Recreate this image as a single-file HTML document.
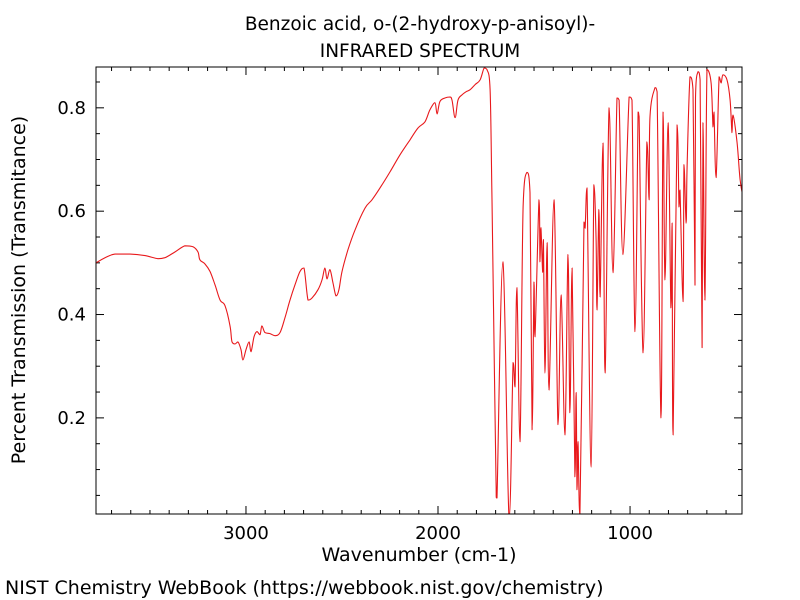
<!DOCTYPE html>
<html><head><meta charset="utf-8"><style>
html,body{margin:0;padding:0;background:#fff;width:800px;height:600px;overflow:hidden}
text{font-family:"DejaVu Sans","Liberation Sans",sans-serif;fill:#000}
</style></head><body>
<svg id="chart" width="800" height="600" xmlns="http://www.w3.org/2000/svg">
<text x="420" y="30" font-size="18.5" text-anchor="middle">Benzoic acid, o-(2-hydroxy-p-anisoyl)-</text>
<text x="420" y="57" font-size="18.5" text-anchor="middle">INFRARED SPECTRUM</text>
<defs><clipPath id="plotclip"><rect x="96" y="67" width="646" height="447"/></clipPath></defs>
<g id="ticks"></g>
<path id="spectrum" fill="none" stroke="#e8191c" stroke-width="1.1" stroke-linejoin="round" clip-path="url(#plotclip)"/>
<rect x="96" y="67" width="646" height="447" fill="none" stroke="#000" stroke-width="1"/>
<text x="419" y="561" font-size="19" text-anchor="middle">Wavenumber (cm-1)</text>
<text transform="translate(25,290) rotate(-90)" font-size="19" text-anchor="middle">Percent Transmission (Transmitance)</text>
<text x="5" y="594" font-size="19">NIST Chemistry WebBook (https://webbook.nist.gov/chemistry)</text>
</svg>
<script>
const wavenumbers=[
3781,3734,3682,3604,3526,3458,3422,3370,3318,3276,
3250,3240,3214,3187,3161,3135,3109,3083,3073,3057,
3042,3026,3016,3000,2984,2974,2958,2943,2927,2917,
2901,2875,2849,2823,2797,2771,2745,2719,2698,2677,
2656,2625,2604,2589,2578,2563,2547,2531,2516,2500,
2469,2432,2380,2344,2302,2250,2198,2146,2104,2068,
2042,2016,2005,1990,1964,1938,1927,1911,1896,1875,
1854,1833,1807,1781,1760,1745,1729,1719,1708,1698,
1693,1662,1630,1609,1599,1589,1573,1557,1537,1521,
1510,1500,1495,1474,1469,1464,1455,1451,1443,1432,
1422,1396,1375,1359,1339,1323,1313,1302,1287,1281,
1276,1271,1261,1240,1234,1224,1203,1188,1177,1172,
1162,1156,1141,1130,1109,1089,1068,1057,1037,1005,
990,974,958,953,932,912,901,896,870,859,
839,828,818,802,787,781,776,755,745,740,
724,719,708,703,688,672,662,659,646,635,
625,620,610,599,578,568,563,552,536,526,
516,495,479,469,464,443,427,412];
const transmittance=[
0.500,0.510,0.517,0.517,0.514,0.508,0.510,0.521,0.533,0.531,
0.521,0.506,0.498,0.483,0.457,0.428,0.417,0.378,0.347,0.343,
0.347,0.332,0.312,0.332,0.347,0.328,0.357,0.367,0.361,0.378,
0.365,0.363,0.359,0.365,0.394,0.428,0.457,0.483,0.490,0.428,
0.432,0.448,0.467,0.490,0.469,0.487,0.461,0.436,0.448,0.483,
0.525,0.564,0.606,0.622,0.645,0.676,0.709,0.738,0.761,0.773,
0.796,0.810,0.788,0.812,0.819,0.821,0.815,0.781,0.815,0.825,
0.831,0.835,0.845,0.854,0.877,0.874,0.835,0.622,0.332,0.080,
0.045,0.502,0.005,0.307,0.260,0.452,0.154,0.608,0.675,0.636,
0.177,0.463,0.357,0.622,0.502,0.568,0.482,0.545,0.287,0.539,
0.254,0.622,0.187,0.438,0.167,0.516,0.210,0.490,0.086,0.249,
0.061,0.154,0.010,0.579,0.567,0.645,0.105,0.651,0.545,0.409,
0.603,0.434,0.732,0.287,0.800,0.481,0.819,0.815,0.516,0.821,
0.815,0.367,0.792,0.783,0.326,0.734,0.622,0.783,0.839,0.831,
0.200,0.792,0.467,0.771,0.413,0.577,0.167,0.767,0.608,0.641,
0.425,0.690,0.577,0.686,0.860,0.835,0.457,0.819,0.870,0.854,
0.336,0.771,0.428,0.874,0.848,0.763,0.792,0.665,0.860,0.848,
0.864,0.854,0.815,0.752,0.786,0.734,0.661,0.628];
const yTicks=[0.2,0.4,0.6,0.8];
const xTicks=[3000,2000,1000];
const X0=96,X1=742,Y0=67,Y1=514,WMAX=3781,WMIN=417,TMAX=0.879,TMIN=0.014;
function xs(w){return X0+(WMAX-w)/(WMAX-WMIN)*(X1-X0);}
function ys(t){return Y1-(t-TMIN)/(TMAX-TMIN)*(Y1-Y0);}
const NS="http://www.w3.org/2000/svg";
const svg=document.getElementById('chart');
const tg=document.getElementById('ticks');
const n=Math.min(wavenumbers.length,transmittance.length);
const P=[];for(let i=0;i<n;i++)P.push([xs(wavenumbers[i]),ys(transmittance[i])]);
let d='M'+P[0][0].toFixed(1)+' '+P[0][1].toFixed(1);
const k=0.18;
function clamp(v,a,b){const lo=Math.min(a,b),hi=Math.max(a,b);return Math.max(lo,Math.min(hi,v));}
for(let i=0;i<n-1;i++){
 const p0=P[Math.max(0,i-1)],p1=P[i],p2=P[i+1],p3=P[Math.min(n-1,i+2)];
 const c1x=p1[0]+(p2[0]-p0[0])*k,c1y=clamp(p1[1]+(p2[1]-p0[1])*k,p1[1],p2[1]);
 const c2x=p2[0]-(p3[0]-p1[0])*k,c2y=clamp(p2[1]-(p3[1]-p1[1])*k,p1[1],p2[1]);
 d+='C'+c1x.toFixed(1)+' '+c1y.toFixed(1)+' '+c2x.toFixed(1)+' '+c2y.toFixed(1)+' '+p2[0].toFixed(1)+' '+p2[1].toFixed(1);
}
document.getElementById('spectrum').setAttribute('d',d);
function line(x1,y1,x2,y2){const l=document.createElementNS(NS,'line');l.setAttribute('x1',x1);l.setAttribute('y1',y1);l.setAttribute('x2',x2);l.setAttribute('y2',y2);l.setAttribute('stroke','#000');l.setAttribute('stroke-width','1');


tg.appendChild(l);}
for(let v=0.05;v<0.88;v+=0.05){const y=ys(v);const major=Math.abs(v*10-Math.round(v*10))<0.01&&Math.round(v*10)%2===0;const L=major?8:4;line(X0,y,X0+L,y);line(X1,y,X1-L,y);}
for(let w=500;w<=3700;w+=100){const x=xs(w);const L=(w%1000===0)?8:4;line(x,Y1,x,Y1-L);line(x,Y0,x,Y0+L);}
yTicks.forEach(v=>{const t=document.createElementNS(NS,'text');t.setAttribute('x',X0-10);t.setAttribute('y',ys(v)+6);t.setAttribute('font-size','18');t.setAttribute('text-anchor','end');t.textContent=v.toFixed(1);


svg.appendChild(t);});
xTicks.forEach(w=>{const t=document.createElementNS(NS,'text');t.setAttribute('x',xs(w));t.setAttribute('y',Y1+25);t.setAttribute('font-size','18');t.setAttribute('text-anchor','middle');t.textContent=w;


svg.appendChild(t);});
</script>
</body></html>
